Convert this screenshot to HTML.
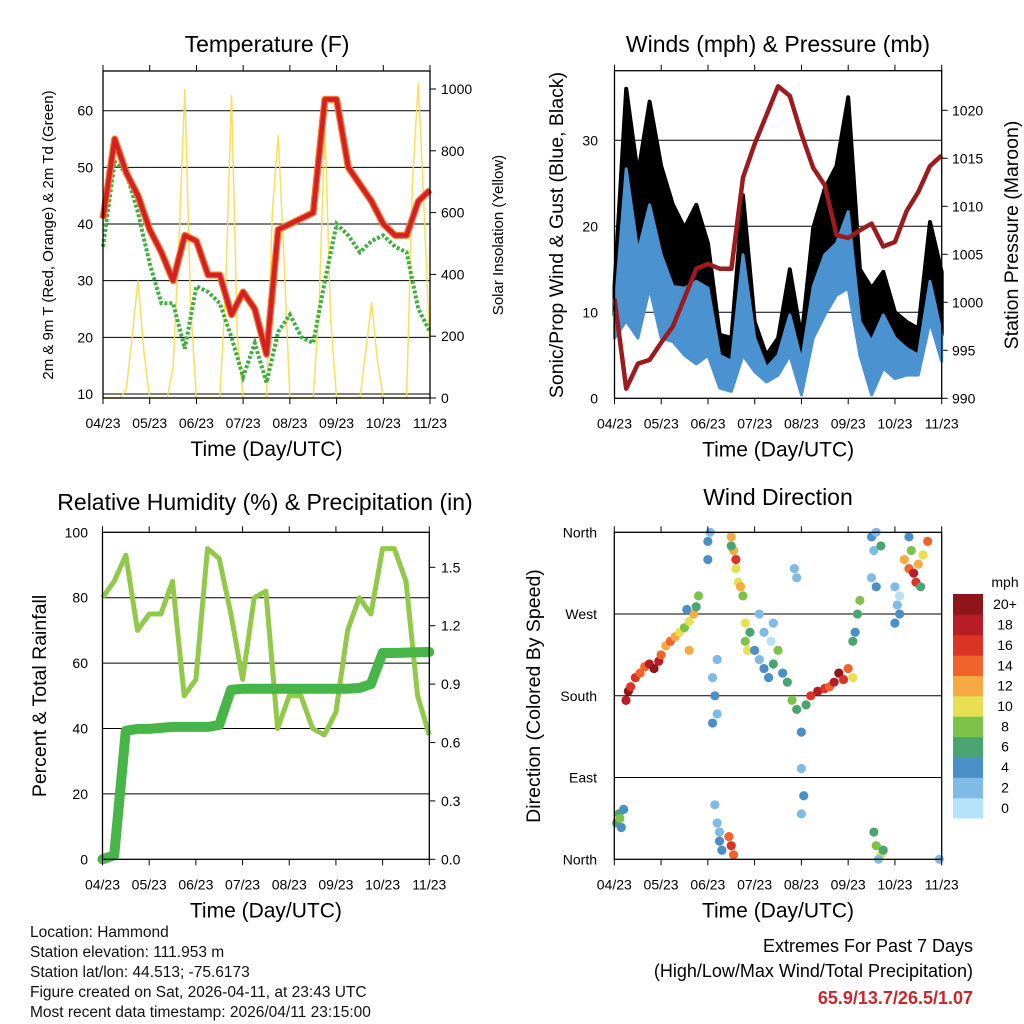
<!DOCTYPE html>
<html><head><meta charset="utf-8"><style>
html,body{margin:0;padding:0;background:#fff;}
svg{display:block;font-family:"Liberation Sans",Arial,sans-serif;}
</style></head><body>
<svg id="fig" width="1024" height="1024" viewBox="0 0 1024 1024" xmlns="http://www.w3.org/2000/svg">
<rect width="1024" height="1024" fill="#fff"/>
<g id="p1"></g>
<g id="p2"></g>
<g id="p3"></g>
<g id="p4"></g>
<g font-size="15.5" fill="#111">
<text x="30" y="937">Location: Hammond</text>
<text x="30" y="957">Station elevation: 111.953 m</text>
<text x="30" y="977">Station lat/lon: 44.513; -75.6173</text>
<text x="30" y="997">Figure created on Sat, 2026-04-11, at 23:43 UTC</text>
<text x="30" y="1017">Most recent data timestamp: 2026/04/11 23:15:00</text>
</g>
<g text-anchor="end">
<text x="973" y="952" font-size="18">Extremes For Past 7 Days</text>
<text x="973" y="977" font-size="18">(High/Low/Max Wind/Total Precipitation)</text>
<text x="973" y="1004" font-size="18" font-weight="bold" fill="#c8282d">65.9/13.7/26.5/1.07</text>
</g>
</svg>
<script>
// ---------- DATA ----------
const dayLabels = ["04/23","05/23","06/23","07/23","08/23","09/23","10/23","11/23"];
// temperature series, 0.25-day steps
const tempRed = [41,55,49,45,39,35,30,38,37,31,31,24,28,25,17,39,40,41,42,62,62,50,47,44,40,38,38,44,46];
const dewGreen = [36,51,49,42,33,26,26,18,29,28,26,20,13,19,12,21,24,20,19,30,40,38,35,37,38,36,35,25,21];
// solar insolation, 0.125-day steps
const solar = [0,0,0,0,30,200,380,150,0,0,0,0,100,500,1000,300,0,0,0,0,0,350,980,200,0,0,0,0,0,600,850,450,0,0,0,0,0,300,880,250,0,0,0,0,0,150,310,120,0,0,0,0,0,700,1020,600,150];
const tempTicks = [10,20,30,40,50,60];
const solarTicks = [0,200,400,600,800,1000];
// winds, 0.25-day steps
const gustHi = [13,36,26,34.5,27,22.5,19.8,22.5,18,7.4,7,23.6,8.9,5,7,15,7,19.8,24.4,27,35,15,12.8,14.7,10,8.9,8.1,20.5,14.7];
const windHi = [9.7,26.7,17,22.5,16.7,13,12.8,13.6,12.8,5,4.3,16.7,7,3.5,5,9.7,4.3,13,16.7,18,21.7,8.9,6.6,9.7,7,5.8,5,13.6,7.4];
const windLo = [7,9,7,12.8,7,6.6,5,4,5,1.2,0.8,5,3.1,1.9,2.7,5,0.4,7,9.7,12,12.8,5,0.4,3.5,2.3,2.7,2.7,8.9,4.3];
const pressure = [1000.4,991,993.6,994,995.8,997.5,1000.5,1003.5,1004,1003.5,1003.5,1013,1016.5,1019.5,1022.5,1021.5,1017.5,1014,1012.2,1007,1006.7,1007.5,1008.2,1005.8,1006.3,1009.5,1011.5,1014.2,1015.3];
const windTicks = [0,10,20,30];
const presTicks = [990,995,1000,1005,1010,1015,1020];
// humidity & precip, 0.25-day steps
const rh = [80,85,93,70,75,75,85,50,55,95,92,75,55,80,82,40,50,50,40,38,45,70,80,75,95,95,85,50,38];
const precip = [0,0.02,0.66,0.67,0.67,0.675,0.68,0.68,0.68,0.68,0.69,0.87,0.876,0.876,0.876,0.876,0.876,0.876,0.876,0.876,0.876,0.876,0.88,0.9,1.06,1.06,1.062,1.064,1.065];
const rhTicks = [0,20,40,60,80,100];
const precipTicks = ["0.0","0.3","0.6","0.9","1.2","1.5"];
// wind direction scatter
const dirT = [0.05,0.1,0.15,0.2,0.12,0.25,0.3,0.35,0.45,0.55,0.65,0.75,0.85,0.95,1.0,1.1,1.2,1.3,1.4,1.5,1.6,1.7,1.75,1.55,1.8,1.6,
 2.0,2.05,2.0,2.1,2.15,2.2,2.1,2.2,2.15,2.2,2.25,2.3,2.25,
 2.5,2.55,2.6,2.65,2.7,2.75,2.6,2.5,2.45,2.5,2.55,2.8,2.85,2.9,2.8,
 3.0,3.1,3.2,3.3,3.4,3.5,3.6,3.7,3.2,3.35,3.1,3.4,3.8,3.9,3.85,3.9,4.0,4.0,4.05,4.0,4.1,
 4.2,4.35,4.5,4.6,4.7,4.8,4.9,5.0,5.1,5.1,5.2,5.15,5.25,5.5,5.6,5.55,5.7,5.5,5.6,5.55,5.6,5.7,5.75,5.65,
 6.0,6.05,6.1,6.0,6.1,6.2,6.3,6.4,6.5,6.6,6.7,6.45,6.35,6.55,6.3,6.95];
const dirD = [40,50,35,55,45,175,185,190,200,205,212,215,210,218,225,235,240,245,250,255,262,270,278,275,290,230,
 350,360,330,200,180,160,150,220,60,40,20,10,30,
 355,340,320,305,300,290,330,345,25,15,5,240,230,250,260,
 230,220,210,200,215,230,205,195,250,240,270,260,175,165,320,310,140,100,70,50,170,
 180,185,188,190,195,205,198,210,200,240,270,250,285,355,360,340,345,310,300,30,15,5,10,0,
 300,280,270,260,290,330,320,315,325,335,350,305,340,300,355,0];
const dirS = [6,7,5,4,8,18,20,16,16,14,15,18,20,18,15,12,14,12,10,8,10,12,6,4,8,13,
 4,3,4,3,4,2,5,3,3,2,4,5,3,
 12,13,11,10,12,8,16,6,14,16,14,8,10,6,11,
 4,3,5,4,6,9,4,6,2,1,2,3,8,6,3,2,4,3,4,2,6,
 16,18,16,14,18,20,16,14,10,6,6,4,8,4,2,3,6,2,4,6,8,10,6,2,
 3,2,4,5,1,12,14,18,12,10,14,16,8,6,4,3];
const dirTicks = ["North","East","South","West","North"];
const speedBins = ["0","2","4","6","8","10","12","14","16","18","20+"];
const speedColors = ["#b5e2f8","#7fbbe5","#4a8fc6","#4aa571","#7dc24a","#e7e053","#f7a944","#f0632a","#dc3327","#b81c24","#8f1518"];

// ---------- HELPERS ----------
const NS = "http://www.w3.org/2000/svg";
function mk(parent, tag, attrs, txt){
  const e = document.createElementNS(NS, tag);
  for (const k in attrs) e.setAttribute(k, attrs[k]);
  if (txt !== undefined) e.textContent = txt;
  parent.appendChild(e);
  return e;
}
function lin(d0,d1,r0,r1){ return v => r0 + (v-d0)/(d1-d0)*(r1-r0); }
function pathFrom(xs, ys){ return xs.map((x,i)=>(i?"L":"M")+x.toFixed(1)+","+ys[i].toFixed(1)).join(""); }

function frame(g, L, R, T, B, sx){
  const ticks = mk(g,"g",{stroke:"#000","stroke-width":1});
  
  
  dayLabels.forEach((lab,i)=>{
    const x = sx(i);
    mk(ticks,"line",{x1:x,x2:x,y1:B,y2:B+6});
    mk(ticks,"line",{x1:x,x2:x,y1:T,y2:T-6});
    const t = mk(g,"text",{x:x,y:B+30,"font-size":14,"text-anchor":"middle"},lab);
    
    
  });
  const xt = mk(g,"text",{x:(L+R)/2,y:B+58,"font-size":21,"text-anchor":"middle"},"Time (Day/UTC)");
  
  
}
function box(g,L,R,T,B){
  const r = mk(g,"rect",{x:L,y:T,width:R-L,height:B-T,fill:"none",stroke:"#000","stroke-width":1.3});
  
  
}
function hgrid(g,L,R,y){
  const l = mk(g,"line",{x1:L,x2:R,y1:y,y2:y,stroke:"#000","stroke-width":1});
  
  
}
function ylab(g,x,y,txt,anchor){
  const t = mk(g,"text",{x:x,y:y+5,"font-size":14,"text-anchor":anchor},txt);
  
  
}
function title(g,x,y,txt,size,rot,name){
  const a = {x:x,y:y,"font-size":size,"text-anchor":"middle"};
  if (rot) a.transform = "rotate(-90 "+x+" "+y+")";
  const t = mk(g,"text",a,txt);
  
  
}

// ---------- PANEL 1: Temperature ----------
(function(){
  const g = document.getElementById("p1");
  const L=103,R=430,T=71,B=398;
  const sx = lin(0,7,L,R), sy = lin(10,60,394,110.7), sy2 = lin(0,1000,398,89);
  tempTicks.forEach(v=>{ hgrid(g,L,R,sy(v)); ylab(g,93,sy(v),String(v),"end"); });
  solarTicks.forEach(v=>{ mk(g,"line",{x1:R,x2:R+6,y1:sy2(v),y2:sy2(v),stroke:"#000"}); ylab(g,441,sy2(v),String(v),"start"); });
  const st = solar.map((v,i)=>i*0.125);
  const ps = mk(g,"path",{d:pathFrom(st.map(sx),solar.map(sy2)),fill:"none",stroke:"#f8dc4a","stroke-width":1.5,"stroke-opacity":0.9});
  
  
  const tt = tempRed.map((v,i)=>i*0.25);
  const pg = mk(g,"path",{d:pathFrom(tt.map(sx),dewGreen.map(sy)),fill:"none",stroke:"#3faf3f","stroke-width":4,"stroke-dasharray":"3 2"});
  
  
  const po = mk(g,"path",{d:pathFrom(tt.map(sx),tempRed.map(sy)),fill:"none",stroke:"#f0782a","stroke-width":7,"stroke-linejoin":"round"});
  
  
  const pr = mk(g,"path",{d:pathFrom(tt.map(sx),tempRed.map(sy)),fill:"none",stroke:"#d42025","stroke-width":4.5,"stroke-linejoin":"round"});
  
  
  box(g,L,R,T,B);
  frame(g,L,R,T,B,sx);
  title(g,267,52,"Temperature (F)",23,false,"temperature-title");
  title(g,53,235,"2m & 9m T (Red, Orange) & 2m Td (Green)",15,true,"temperature-y-title");
  title(g,503,235,"Solar Insolation (Yellow)",15,true,"solar-y-title");
})();

// ---------- PANEL 2: Winds & Pressure ----------
(function(){
  const g = document.getElementById("p2");
  const L=614.5,R=941.7,T=70.7,B=398.3;
  const sx = lin(0,7,L,R), sy = lin(0,10,398.3,312.3), sy2 = lin(990,995,398.3,350.3);
  windTicks.forEach(v=>{ if(v>0) hgrid(g,L,R,sy(v)); ylab(g,598,sy(v),String(v),"end"); });
  presTicks.forEach(v=>{ mk(g,"line",{x1:R,x2:R+6,y1:sy2(v),y2:sy2(v),stroke:"#000"}); ylab(g,952,sy2(v),String(v),"start"); });
  const tt = gustHi.map((v,i)=>i*0.25);
  const X = tt.map(sx);
  const gd = pathFrom(X, gustHi.map(sy)) + pathFrom(X.slice().reverse(), windHi.map(sy).reverse()).replace("M","L") + "Z";
  const gp2 = mk(g,"path",{d:gd,fill:"#000",stroke:"#000","stroke-width":4,"stroke-linejoin":"round"});
  
  
  const wd = pathFrom(X, windHi.map(sy)) + pathFrom(X.slice().reverse(), windLo.map(sy).reverse()).replace("M","L") + "Z";
  const wp = mk(g,"path",{d:wd,fill:"#4a93d0",stroke:"#4a93d0","stroke-width":3,"stroke-linejoin":"round"});
  
  
  const pp = mk(g,"path",{d:pathFrom(X,pressure.map(sy2)),fill:"none",stroke:"#9b1b1e","stroke-width":4.5,"stroke-linejoin":"round"});
  
  
  box(g,L,R,T,B);
  frame(g,L,R,T,B,sx);
  title(g,778,52,"Winds (mph) & Pressure (mb)",23,false,"winds-title");
  title(g,563,235,"Sonic/Prop Wind & Gust (Blue, Black)",19.5,true,"wind-y-title");
  title(g,1018,235,"Station Pressure (Maroon)",19.5,true,"pressure-y-title");
})();

// ---------- PANEL 3: RH & Precip ----------
(function(){
  const g = document.getElementById("p3");
  const L=102.5,R=429.3,T=532.3,B=859.3;
  const sx = lin(0,7,L,R), sy = lin(0,100,B,T), sy2 = lin(0,1.5,B,567.3);
  rhTicks.forEach(v=>{ if(v>0&&v<100) hgrid(g,L,R,sy(v)); ylab(g,88,sy(v),String(v),"end"); });
  precipTicks.forEach(v=>{ mk(g,"line",{x1:R,x2:R+6,y1:sy2(+v),y2:sy2(+v),stroke:"#000"}); ylab(g,441,sy2(+v),v,"start"); });
  const tt = rh.map((v,i)=>i*0.25);
  const X = tt.map(sx);
  const pr = mk(g,"path",{d:pathFrom(X,rh.map(sy)),fill:"none",stroke:"#92c94b","stroke-width":5,"stroke-linejoin":"round"});
  
  
  const pp = mk(g,"path",{d:pathFrom(X,precip.map(sy2)),fill:"none",stroke:"#48b548","stroke-width":10,"stroke-linejoin":"round","stroke-linecap":"round"});
  
  
  box(g,L,R,T,B);
  frame(g,L,R,T,B,sx);
  title(g,265,510,"Relative Humidity (%) & Precipitation (in)",23,false,"humidity-title");
  title(g,46,696,"Percent & Total Rainfall",19.5,true,"humidity-y-title");
})();

// ---------- PANEL 4: Wind Direction ----------
(function(){
  const g = document.getElementById("p4");
  const L=614.3,R=941.7,T=532.3,B=859.3;
  const sx = lin(0,7,L,R), sy = lin(0,360,B,T);
  dirTicks.forEach((lab,i)=>{ const y=sy(i*90); if(i>0&&i<4) hgrid(g,L,R,y); ylab(g,597,y,lab,"end"); });
  const dots = mk(g,"g",{});
  
  
  dirT.forEach((t,i)=>{
    const bin = Math.min(10,Math.floor(dirS[i]/2));
    const c = mk(dots,"circle",{cx:sx(t),cy:sy(dirD[i]),r:4.6,fill:speedColors[bin]});
    
    
  });
  box(g,L,R,T,B);
  frame(g,L,R,T,B,sx);
  title(g,778,505,"Wind Direction",23,false,"direction-title");
  title(g,540,696,"Direction (Colored By Speed)",19.5,true,"direction-y-title");
  const cb = mk(g,"g",{});
  
  
  const h = (818-594)/11;
  speedBins.forEach((lab,i)=>{
    const y = 818 - (i+1)*h;
    const r = mk(cb,"rect",{x:953,y:y,width:30,height:h+0.5,fill:speedColors[i]});
    
    
    const t = mk(cb,"text",{x:1005,y:y+h/2+5,"font-size":14,"text-anchor":"middle"},lab);
    
    
  });
  const u = mk(cb,"text",{x:1005,y:587,"font-size":14,"text-anchor":"middle"},"mph");
  
  
})();
</script>
</body></html>
